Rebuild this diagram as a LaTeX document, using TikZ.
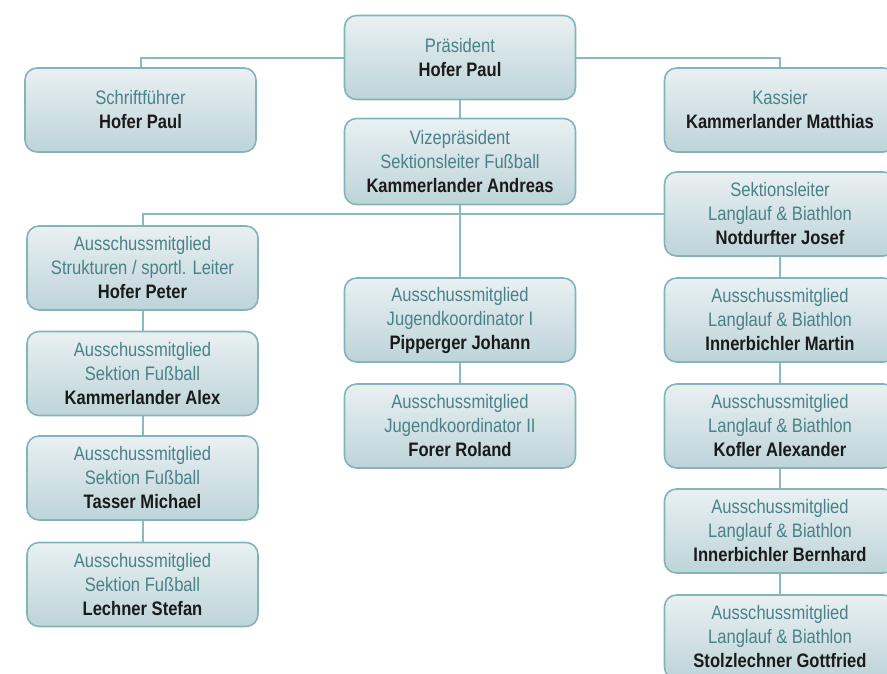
\documentclass[tikz,border=0pt]{standalone}
\usepackage{fontspec}
\setmainfont[FakeStretch=0.85]{Liberation Sans}
\definecolor{rolecol}{HTML}{4A8189}
\definecolor{namecol}{HTML}{1A1A1A}
\definecolor{edgecol}{HTML}{84B4BB}
\definecolor{linkcol}{HTML}{8AB9C0}
\definecolor{filltop}{HTML}{E9F0F2}
\definecolor{fillbot}{HTML}{BDD4D9}
\newcommand{\boxrole}[1]{{\color{rolecol}#1}}
\newcommand{\boxname}[1]{{\bfseries\color{namecol}#1}}
\begin{document}
\begin{tikzpicture}[x=1pt,y=-1pt,
  orgbox/.style={draw=edgecol, line width=1.6pt, rounded corners=12pt,
    top color=filltop, bottom color=fillbot, minimum width=231pt,
    minimum height=84pt, align=center, inner sep=2pt,
    font=\fontsize{19.5}{24}\selectfont},
  link/.style={draw=linkcol, line width=2pt}]
\useasboundingbox (0,0) rectangle (887,673);

\coordinate (pres) at (460,57.5);
\coordinate (schrift) at (140.5,110);
\coordinate (kass) at (780,110);
\coordinate (vize) at (460,161.5);
\coordinate (sekt) at (780,214);
\coordinate (hp) at (142.5,268);
\coordinate (kal) at (142.5,373.5);
\coordinate (tm) at (142.5,478);
\coordinate (ls) at (142.5,584.5);
\coordinate (pj) at (460,320);
\coordinate (fr) at (460,426);
\coordinate (im) at (780,320);
\coordinate (ka) at (780,426);
\coordinate (ib) at (780,531);
\coordinate (sg) at (780,637);

\draw[link] (pres) -| (schrift);
\draw[link] (pres) -| (kass);
\draw[link] (pres) -- (pj) -- (fr);
\draw[link] (sekt) -| (hp);
\draw[link] (hp) -- (ls);
\draw[link] (sekt) -- (sg);

\node[orgbox] (nPres) at (pres) {\boxrole{Präsident}\\\boxname{Hofer Paul}};
\node[orgbox] (nSchrift) at (schrift) {\boxrole{Schriftführer}\\\boxname{Hofer Paul}};
\node[orgbox] (nKass) at (kass) {\boxrole{Kassier}\\\boxname{Kammerlander Matthias}};
\node[orgbox, minimum height=86pt] (nVize) at (vize) {\boxrole{Vizepräsident}\\\boxrole{Sektionsleiter Fußball}\\\boxname{Kammerlander Andreas}};
\node[orgbox] (nSekt) at (sekt) {\boxrole{Sektionsleiter}\\\boxrole{Langlauf \& Biathlon}\\\boxname{Notdurfter Josef}};
\node[orgbox] (nHP) at (hp) {\boxrole{Ausschussmitglied}\\\boxrole{Strukturen / sportl. Leiter}\\\boxname{Hofer Peter}};
\node[orgbox] (nKAl) at (kal) {\boxrole{Ausschussmitglied}\\\boxrole{Sektion Fußball}\\\boxname{Kammerlander Alex}};
\node[orgbox] (nTM) at (tm) {\boxrole{Ausschussmitglied}\\\boxrole{Sektion Fußball}\\\boxname{Tasser Michael}};
\node[orgbox] (nLS) at (ls) {\boxrole{Ausschussmitglied}\\\boxrole{Sektion Fußball}\\\boxname{Lechner Stefan}};
\node[orgbox] (nPJ) at (pj) {\boxrole{Ausschussmitglied}\\\boxrole{Jugendkoordinator I}\\\boxname{Pipperger Johann}};
\node[orgbox] (nFR) at (fr) {\boxrole{Ausschussmitglied}\\\boxrole{Jugendkoordinator II}\\\boxname{Forer Roland}};
\node[orgbox] (nIM) at (im) {\boxrole{Ausschussmitglied}\\\boxrole{Langlauf \& Biathlon}\\\boxname{Innerbichler Martin}};
\node[orgbox] (nKA) at (ka) {\boxrole{Ausschussmitglied}\\\boxrole{Langlauf \& Biathlon}\\\boxname{Kofler Alexander}};
\node[orgbox] (nIB) at (ib) {\boxrole{Ausschussmitglied}\\\boxrole{Langlauf \& Biathlon}\\\boxname{Innerbichler Bernhard}};
\node[orgbox] (nSG) at (sg) {\boxrole{Ausschussmitglied}\\\boxrole{Langlauf \& Biathlon}\\\boxname{Stolzlechner Gottfried}};
\end{tikzpicture}
\end{document}
